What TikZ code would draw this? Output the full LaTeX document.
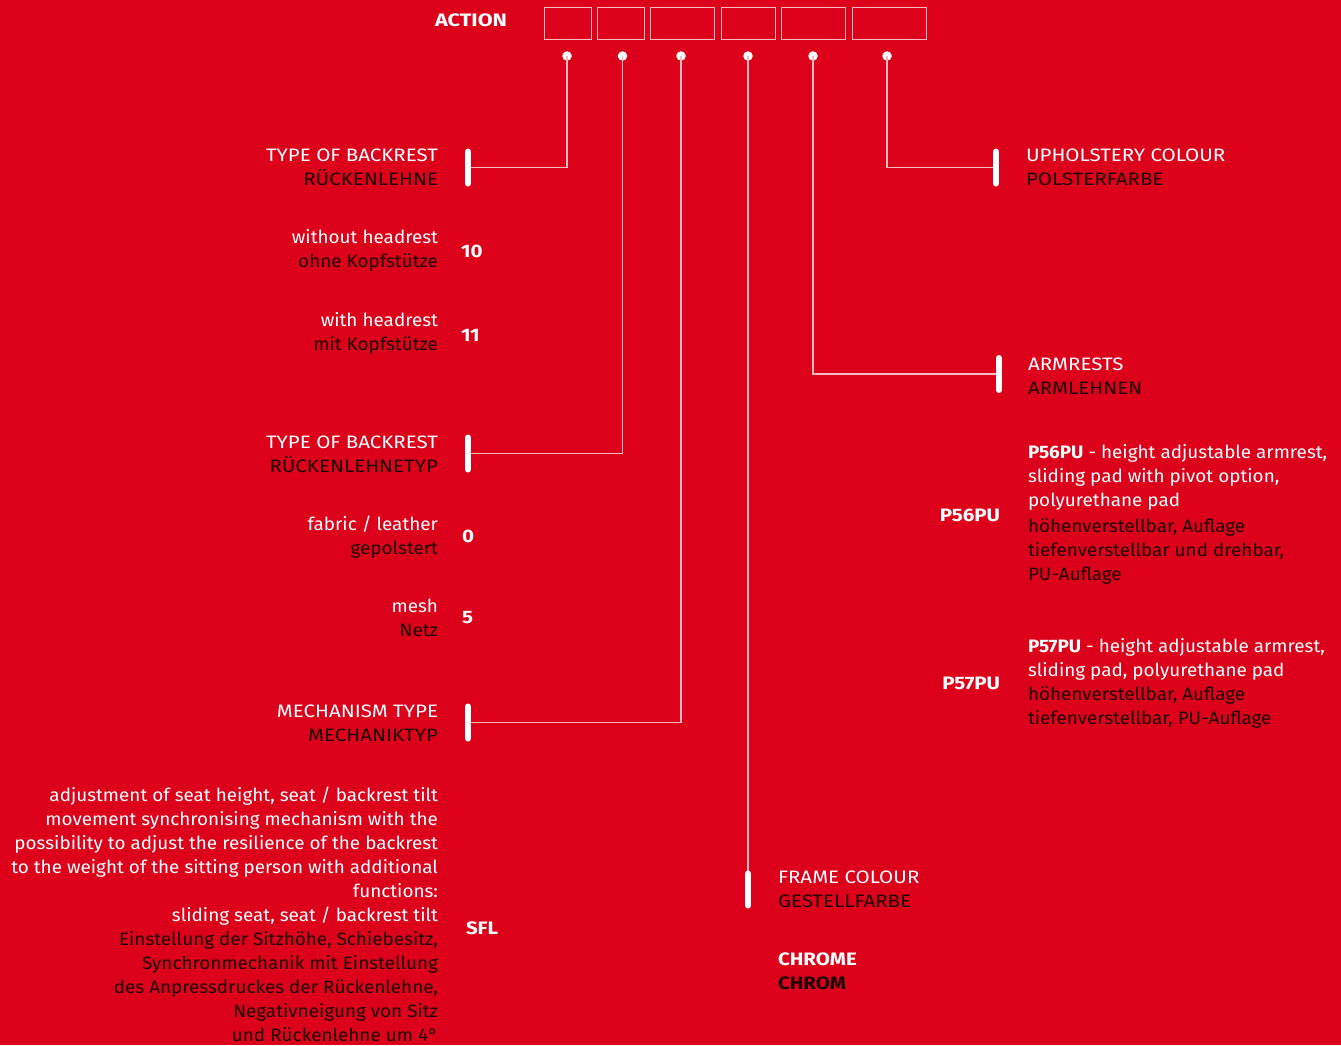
\documentclass[tikz,border=0pt]{standalone}
\usepackage{fontspec}
\setmainfont{Fira Sans}[FakeStretch=1.05]
\newfontfamily\capsf{Fira Sans}[FakeStretch=1.14]
\newfontfamily\actf{Fira Sans}[FakeStretch=1.2]
\definecolor{bg}{RGB}{221,0,26}
\definecolor{ln}{RGB}{246,186,193}
\definecolor{dk}{RGB}{28,0,2}
\begin{document}
\begin{tikzpicture}[x=1pt,y=-1pt,
  every node/.style={inner sep=0pt,outer sep=0pt},
  txt/.style={font=\fontsize{18}{24}\selectfont},
  ctxt/.style={font=\fontsize{18}{24}\selectfont\capsf},
  en/.style={txt,text=white},
  de/.style={txt,text=dk},
  enc/.style={ctxt,text=white},
  dec/.style={ctxt,text=dk},
  val/.style={text=white,font=\fontsize{18}{24}\selectfont\capsf\bfseries},
  dval/.style={text=dk,font=\fontsize{18}{24}\selectfont\capsf\bfseries},
  le/.style={anchor=base east,align=right},
  ri/.style={anchor=base west,align=left},
  conn/.style={draw=ln,line width=1.3pt},
  bar/.style={draw=white,line width=6pt,line cap=round},
  codebox/.style={draw=ln,line width=1pt,anchor=north west,minimum height=32pt},
  dot/.style={circle,fill=white,minimum size=9.5pt}]
\fill[bg] (0,0) rectangle (1341,1045);
\useasboundingbox (0,0) rectangle (1341,1045);

% header
\node[text=white,font=\fontsize{18}{24}\selectfont\actf\bfseries,anchor=base west] (action) at (435,26.5) {ACTION};
\node[codebox,minimum width=47pt] (b1) at (544,7) {};
\node[codebox,minimum width=47pt] (b2) at (597,7) {};
\node[codebox,minimum width=64pt] (b3) at (650.5,7) {};
\node[codebox,minimum width=54pt] (b4) at (721,7) {};
\node[codebox,minimum width=64.5pt] (b5) at (781,7) {};
\node[codebox,minimum width=74.5pt] (b6) at (852,7) {};

% bar centres
\coordinate (k1) at (468,167.5);
\coordinate (k2) at (468,453.5);
\coordinate (k3) at (468,722.5);
\coordinate (k4) at (748,889.5);
\coordinate (k5) at (999,374);
\coordinate (k6) at (996,167.5);

% dots
\node[dot] (d1) at (567,56) {};
\node[dot] (d2) at (622.5,56) {};
\node[dot] (d3) at (681,56) {};
\node[dot] (d4) at (748,56) {};
\node[dot] (d5) at (813,56) {};
\node[dot] (d6) at (887,56) {};

% connectors
\draw[conn] (d1.center) |- (k1);
\draw[conn] (d2.center) |- (k2);
\draw[conn] (d3.center) |- (k3);
\draw[conn] (d4.center) -- (k4);
\draw[conn] (d5.center) |- (k5);
\draw[conn] (d6.center) |- (k6);

% bars
\foreach \k in {k1,k2,k3,k4,k5,k6}
  \draw[bar] ([yshift=-16pt]\k) -- ([yshift=16pt]\k);

% left column
\node[enc,le] (t1) at (438,161) {TYPE OF BACKREST};
\node[dec,le] (t1d) at (438,185) {RÜCKENLEHNE};
\node[en,le] (o1) at (438,243) {without headrest};
\node[de,le] (o1d) at (438,267) {ohne Kopfstütze};
\node[val,anchor=base west] (v1) at (461,257) {10};
\node[en,le] (o2) at (438,326) {with headrest};
\node[de,le] (o2d) at (438,350) {mit Kopfstütze};
\node[val,anchor=base west] (v2) at (461,341) {11};

\node[enc,le] (t2) at (438,448) {TYPE OF BACKREST};
\node[dec,le] (t2d) at (438,472) {RÜCKENLEHNETYP};
\node[en,le] (o3) at (438,530) {fabric / leather};
\node[de,le] (o3d) at (438,554) {gepolstert};
\node[val,anchor=base west] (v3) at (462,542) {0};
\node[en,le] (o4) at (438,612) {mesh};
\node[de,le] (o4d) at (438,636) {Netz};
\node[val,anchor=base west] (v4) at (462,623) {5};

\node[enc,le] (t3) at (438,717) {MECHANISM TYPE};
\node[dec,le] (t3d) at (438,741) {MECHANIKTYP};
\node[en,le] (o5) at (438,921) {adjustment of seat height, seat / backrest tilt\\
movement synchronising mechanism with the\\
possibility to adjust the resilience of the backrest\\
to the weight of the sitting person with additional\\
functions:\\
sliding seat, seat / backrest tilt};
\node[de,le] (o5d) at (438,1041) {Einstellung der Sitzhöhe, Schiebesitz,\\
Synchronmechanik mit Einstellung\\
des Anpressdruckes der Rückenlehne,\\
Negativneigung von Sitz\\
und Rückenlehne um 4°};
\node[val,anchor=base west] (v5) at (466,934) {SFL};

% frame colour
\node[enc,ri] (t4) at (778,883) {FRAME COLOUR};
\node[dec,ri] (t4d) at (778,907) {GESTELLFARBE};
\node[val,ri] (v6) at (778,965) {CHROME};
\node[dval,ri] (v6d) at (778,989) {CHROM};

% armrests
\node[enc,ri] (t5) at (1028,370) {ARMRESTS};
\node[dec,ri] (t5d) at (1028,394) {ARMLEHNEN};
\node[val,anchor=base east] (v7) at (1000,521) {P56PU};
\node[en,ri] (o6) at (1028,506) {\textbf{P56PU} - height adjustable armrest,\\
sliding pad with pivot option,\\
polyurethane pad};
\node[de,ri] (o6d) at (1028,580) {höhenverstellbar, Auflage\\
tiefenverstellbar und drehbar,\\
PU-Auflage};
\node[val,anchor=base east] (v8) at (1000,689) {P57PU};
\node[en,ri] (o7) at (1028,676) {\textbf{P57PU} - height adjustable armrest,\\
sliding pad, polyurethane pad};
\node[de,ri] (o7d) at (1028,724) {höhenverstellbar, Auflage\\
tiefenverstellbar, PU-Auflage};

% upholstery
\node[enc,ri] (t6) at (1026,161) {UPHOLSTERY COLOUR};
\node[dec,ri] (t6d) at (1026,185) {POLSTERFARBE};
\end{tikzpicture}
\end{document}
